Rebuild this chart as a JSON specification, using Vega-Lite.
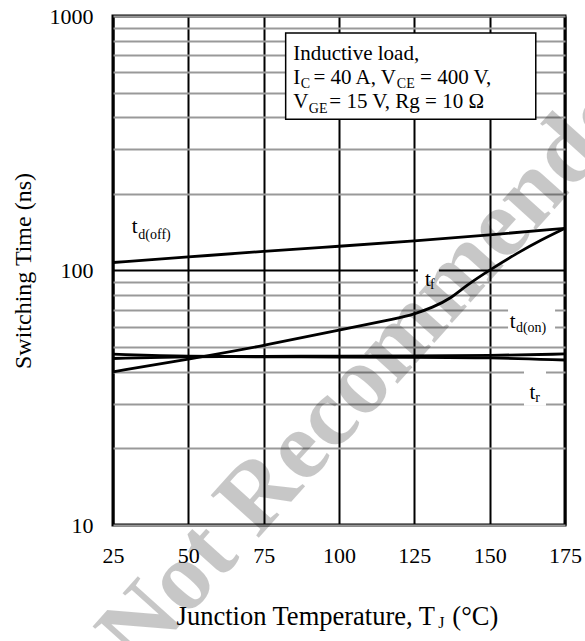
{
  "$schema": "https://vega.github.io/schema/vega-lite/v6.json",
  "width": 452,
  "height": 509,
  "autosize": "none",
  "padding": {"left": 113, "top": 16, "right": 20, "bottom": 116},
  "background": "white",
  "datasets": {
    "curves": [
      {"series": "td_off", "T": 25, "ns": 107.5},
      {"series": "td_off", "T": 50, "ns": 113},
      {"series": "td_off", "T": 75, "ns": 119},
      {"series": "td_off", "T": 100, "ns": 124.5},
      {"series": "td_off", "T": 125, "ns": 130.5},
      {"series": "td_off", "T": 150, "ns": 138},
      {"series": "td_off", "T": 175, "ns": 146.5},
      {"series": "tf", "T": 25, "ns": 40},
      {"series": "tf", "T": 50, "ns": 44.8},
      {"series": "tf", "T": 75, "ns": 50.6},
      {"series": "tf", "T": 100, "ns": 58.4},
      {"series": "tf", "T": 120, "ns": 65},
      {"series": "tf", "T": 125, "ns": 67.5},
      {"series": "tf", "T": 131, "ns": 71.5},
      {"series": "tf", "T": 137, "ns": 77.5},
      {"series": "tf", "T": 142, "ns": 87},
      {"series": "tf", "T": 150, "ns": 100.5},
      {"series": "tf", "T": 159, "ns": 116.8},
      {"series": "tf", "T": 167, "ns": 131.8},
      {"series": "tf", "T": 175, "ns": 146.5},
      {"series": "td_on", "T": 25, "ns": 45.1},
      {"series": "td_on", "T": 50, "ns": 45.9},
      {"series": "td_on", "T": 75, "ns": 46},
      {"series": "td_on", "T": 100, "ns": 46.1},
      {"series": "td_on", "T": 125, "ns": 46.2},
      {"series": "td_on", "T": 150, "ns": 46.3},
      {"series": "td_on", "T": 175, "ns": 47},
      {"series": "tr", "T": 25, "ns": 46.9},
      {"series": "tr", "T": 50, "ns": 45.9},
      {"series": "tr", "T": 75, "ns": 45.8},
      {"series": "tr", "T": 100, "ns": 45.7},
      {"series": "tr", "T": 125, "ns": 45.6},
      {"series": "tr", "T": 150, "ns": 45.5},
      {"series": "tr", "T": 175, "ns": 44.5}
    ],
    "boxes": [
      {"kind": "note", "T": 82.3, "T2": 165.3, "ns": 393, "ns2": 858},
      {"kind": "label", "T": 126.2, "T2": 133.2, "ns": 85, "ns2": 108},
      {"kind": "label", "T": 156.1, "T2": 171.7, "ns": 55.8, "ns2": 76.6},
      {"kind": "label", "T": 161.4, "T2": 168.7, "ns": 29.4, "ns2": 41.4}
    ],
    "texts": [
      {"kind": "main", "txt": "Inductive load,", "T": 84.8, "ns": 672},
      {"kind": "main", "txt": "I", "T": 84.8, "ns": 540},
      {"kind": "sub", "txt": "C", "T": 87.3, "ns": 520},
      {"kind": "main", "txt": "= 40 A, V", "T": 91.5, "ns": 540},
      {"kind": "sub", "txt": "CE", "T": 119.2, "ns": 520},
      {"kind": "main", "txt": "= 400 V,", "T": 126.9, "ns": 540},
      {"kind": "main", "txt": "V", "T": 84.8, "ns": 433.5},
      {"kind": "sub", "txt": "GE", "T": 90, "ns": 415},
      {"kind": "main", "txt": "= 15 V, Rg = 10 Ω", "T": 96.8, "ns": 433.5},
      {"kind": "main", "txt": "t", "T": 31.2, "ns": 140.4},
      {"kind": "sub", "txt": "d(off)", "T": 33.4, "ns": 132.6},
      {"kind": "main", "txt": "t", "T": 128.5, "ns": 87.1},
      {"kind": "sub", "txt": "f", "T": 130.2, "ns": 84.6},
      {"kind": "main", "txt": "t", "T": 156.7, "ns": 59.6},
      {"kind": "sub", "txt": "d(on)", "T": 158.7, "ns": 57.2},
      {"kind": "main", "txt": "t", "T": 163.2, "ns": 31.3},
      {"kind": "sub", "txt": "r", "T": 165.1, "ns": 30.5},
      {"kind": "title", "txt": "Junction Temperature, T", "T": 46.1, "ns": 4.05},
      {"kind": "titleSub", "txt": "J", "T": 132.9, "ns": 3.95},
      {"kind": "title", "txt": "(°C)", "T": 137.6, "ns": 4.05}
    ],
    "stamp": [
      {"txt": "Not Recommended", "T": 115, "ns": 46.5}
    ]
  },
  "encoding": {
    "x": {
      "field": "T",
      "type": "quantitative",
      "scale": {"domain": [25, 175], "nice": false, "zero": false},
      "axis": {
        "values": [25, 50, 75, 100, 125, 150, 175],
        "title": null,
        "grid": true,
        "gridColor": "black",
        "gridWidth": 2,
        "domain": false,
        "ticks": false,
        "labelFlush": false,
        "labelPadding": 20,
        "labelFontSize": 22
      }
    },
    "y": {
      "field": "ns",
      "type": "quantitative",
      "scale": {"type": "log", "domain": [10, 1000], "nice": false},
      "axis": {
        "values": [10, 20, 30, 40, 50, 60, 70, 80, 90, 100, 200, 300, 400, 500, 600, 700, 800, 900, 1000],
        "labelExpr": "datum.value == 10 || datum.value == 100 || datum.value == 1000 ? '' + datum.value : ''",
        "title": "Switching Time (ns)",
        "titleFontSize": 24,
        "titleFontWeight": "normal",
        "titlePadding": 14,
        "grid": true,
        "gridColor": {
          "condition": {"test": "datum.value == 100", "value": "black"},
          "value": "#999999"
        },
        "gridWidth": 2,
        "domain": false,
        "ticks": false,
        "labelPadding": 20,
        "labelFontSize": 22
      }
    }
  },
  "layer": [
    {
      "data": {"name": "boxes"},
      "mark": {"type": "rect", "fill": "white"},
      "encoding": {
        "x2": {"field": "T2"},
        "y2": {"field": "ns2"},
        "stroke": {
          "condition": {"test": "datum.kind == 'note'", "value": "black"},
          "value": null
        },
        "strokeWidth": {"value": 1.5}
      }
    },
    {
      "data": {"name": "stamp"},
      "mark": {
        "type": "text",
        "font": "Liberation Serif",
        "fontWeight": "bold",
        "fontSize": 98,
        "angle": -48,
        "align": "center",
        "baseline": "middle",
        "fill": "black",
        "fillOpacity": 0.22
      },
      "encoding": {"text": {"field": "txt"}}
    },
    {
      "data": {"name": "curves"},
      "mark": {"type": "line", "color": "black", "strokeWidth": 2.8, "interpolate": "basis"},
      "encoding": {"detail": {"field": "series"}}
    },
    {
      "data": {"name": "texts"},
      "transform": [{"filter": "datum.kind == 'main'"}],
      "mark": {"type": "text", "align": "left", "baseline": "alphabetic", "fontSize": 21, "color": "black"},
      "encoding": {"text": {"field": "txt"}}
    },
    {
      "data": {"name": "texts"},
      "transform": [{"filter": "datum.kind == 'sub'"}],
      "mark": {"type": "text", "align": "left", "baseline": "alphabetic", "fontSize": 14, "color": "black"},
      "encoding": {"text": {"field": "txt"}}
    },
    {
      "data": {"name": "texts"},
      "transform": [{"filter": "datum.kind == 'title'"}],
      "mark": {"type": "text", "align": "left", "baseline": "alphabetic", "fontSize": 26.5, "color": "black"},
      "encoding": {"text": {"field": "txt"}}
    },
    {
      "data": {"name": "texts"},
      "transform": [{"filter": "datum.kind == 'titleSub'"}],
      "mark": {"type": "text", "align": "left", "baseline": "alphabetic", "fontSize": 16, "color": "black"},
      "encoding": {"text": {"field": "txt"}}
    }
  ],
  "config": {
    "font": "Liberation Serif",
    "view": {"stroke": "black", "strokeWidth": 3},
    "axis": {"labelColor": "black", "titleColor": "black", "labelFont": "Liberation Serif", "titleFont": "Liberation Serif"}
  }
}
